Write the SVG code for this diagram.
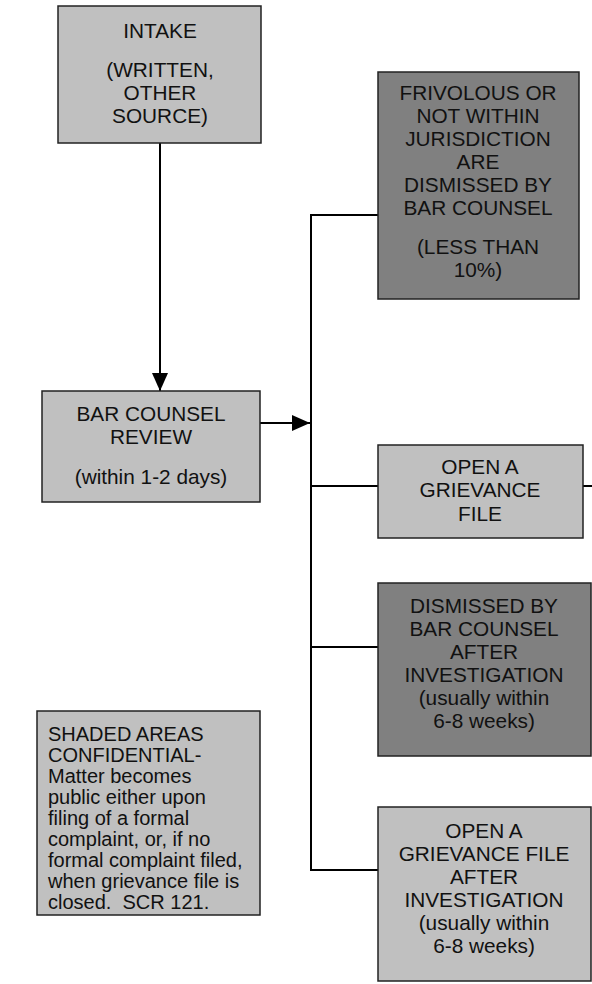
<svg xmlns="http://www.w3.org/2000/svg" width="592" height="984" viewBox="0 0 592 984">
<defs>
<style>
.box{stroke:#222;stroke-width:1.5}
.lt{fill:#c0c0c0}
.dk{fill:#808080}
text{font-family:"Liberation Sans",Arial,sans-serif;font-size:20.8px;fill:#111}
.c{text-anchor:middle}
.n{font-size:20px}
.conn{stroke:#000;stroke-width:2;fill:none}
</style>
<marker id="ah" markerUnits="userSpaceOnUse" markerWidth="18" markerHeight="16" refX="18" refY="8" orient="auto">
<path d="M0,0 L18,8 L0,16 Z" fill="#000"/>
</marker>
</defs>
<rect width="592" height="984" fill="#fff"/>
<g id="connectors">
<line class="conn" x1="160" y1="143" x2="160" y2="391" marker-end="url(#ah)"/>
<line class="conn" x1="260" y1="423" x2="310" y2="423" marker-end="url(#ah)"/>
<line class="conn" x1="311" y1="214" x2="311" y2="871"/>
<line class="conn" x1="310" y1="215" x2="378" y2="215"/>
<line class="conn" x1="311" y1="486" x2="378" y2="486"/>
<line class="conn" x1="583" y1="486" x2="592" y2="486"/>
<line class="conn" x1="311" y1="647" x2="378" y2="647"/>
<line class="conn" x1="310" y1="870" x2="378" y2="870"/>
</g>
<g id="intake">
<rect class="box lt" x="58" y="6" width="203" height="137"/>
<text class="c" x="160" y="38">INTAKE</text>
<text class="c" x="160" y="77">(WRITTEN,</text>
<text class="c" x="160" y="100">OTHER</text>
<text class="c" x="160" y="123">SOURCE)</text>
</g>
<g id="frivolous">
<rect class="box dk" x="378" y="72" width="201" height="227"/>
<text class="c" x="478" y="100">FRIVOLOUS OR</text>
<text class="c" x="478" y="123">NOT WITHIN</text>
<text class="c" x="478" y="146">JURISDICTION</text>
<text class="c" x="478" y="169">ARE</text>
<text class="c" x="478" y="192">DISMISSED BY</text>
<text class="c" x="478" y="215">BAR COUNSEL</text>
<text class="c" x="478" y="254">(LESS THAN</text>
<text class="c" x="478" y="277">10%)</text>
</g>
<g id="review">
<rect class="box lt" x="42" y="391" width="218" height="111"/>
<text class="c" x="151" y="421">BAR COUNSEL</text>
<text class="c" x="151" y="444">REVIEW</text>
<text class="c" x="151" y="484">(within 1-2 days)</text>
</g>
<g id="grievance">
<rect class="box lt" x="378" y="445" width="205" height="93"/>
<text class="c" x="480" y="474">OPEN A</text>
<text class="c" x="480" y="497">GRIEVANCE</text>
<text class="c" x="480" y="521">FILE</text>
</g>
<g id="dismissed">
<rect class="box dk" x="378" y="583" width="213" height="173"/>
<text class="c" x="484" y="613">DISMISSED BY</text>
<text class="c" x="484" y="636">BAR COUNSEL</text>
<text class="c" x="484" y="659">AFTER</text>
<text class="c" x="484" y="682">INVESTIGATION</text>
<text class="c" x="484" y="705">(usually within</text>
<text class="c" x="484" y="728">6-8 weeks)</text>
</g>
<g id="grievance-after">
<rect class="box lt" x="378" y="807" width="213" height="174"/>
<text class="c" x="484" y="838">OPEN A</text>
<text class="c" x="484" y="861">GRIEVANCE FILE</text>
<text class="c" x="484" y="884">AFTER</text>
<text class="c" x="484" y="907">INVESTIGATION</text>
<text class="c" x="484" y="930">(usually within</text>
<text class="c" x="484" y="953">6-8 weeks)</text>
</g>
<g id="note">
<rect class="box lt" x="37" y="711" width="223" height="204"/>
<text class="n" x="48" y="741">SHADED AREAS</text>
<text class="n" x="48" y="762">CONFIDENTIAL-</text>
<text class="n" x="48" y="783">Matter becomes</text>
<text class="n" x="48" y="804">public either upon</text>
<text class="n" x="48" y="825">filing of a formal</text>
<text class="n" x="48" y="846">complaint, or, if no</text>
<text class="n" x="48" y="867">formal complaint filed,</text>
<text class="n" x="48" y="888">when grievance file is</text>
<text class="n" x="48" y="909" xml:space="preserve">closed.  SCR 121.</text>
</g>
</svg>
